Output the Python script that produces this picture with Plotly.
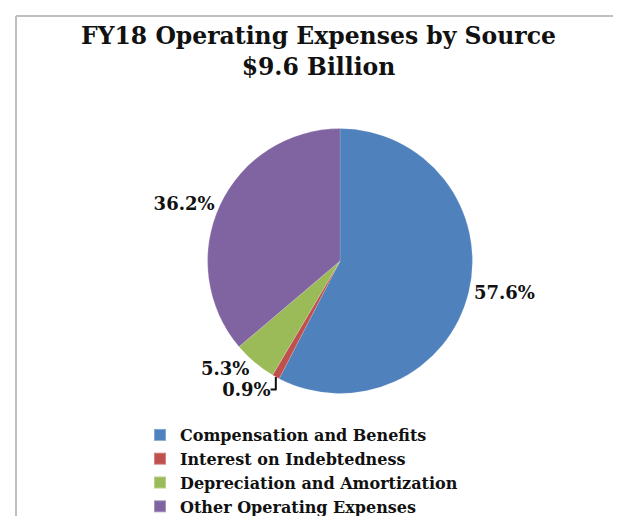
import plotly.graph_objects as go

categories = ["Compensation and Benefits", "Interest on Indebtedness",
              "Depreciation and Amortization", "Other Operating Expenses"]
shares = [57.6, 0.9, 5.3, 36.2]
colors = ["#4F81BD", "#C0504D", "#9BBB59", "#8064A2"]
title_lines = ["FY18 Operating Expenses by Source", "$9.6 Billion"]

W, H = 621, 516
FONT = "DejaVu Serif"

fig = go.Figure(go.Pie(
    labels=["<b>" + c + "</b>" for c in categories],
    values=shares,
    sort=False,
    direction="clockwise",
    rotation=0,
    marker=dict(colors=colors, line=dict(color="rgba(255,255,255,0.3)", width=0.5)),
    texttemplate="<b>%{value:.1f}%</b>",
    textposition="outside",
    textfont=dict(family=FONT, size=18, color="#111111"),
    hoverinfo="label+value",
    domain=dict(x=[(332 - 140) / W, (332 + 140) / W], y=[(H - 390) / H, (H - 122) / H]),
    showlegend=True,
))

fig.update_layout(
    width=W, height=H,
    margin=dict(l=0, r=0, t=0, b=0),
    paper_bgcolor="white",
    plot_bgcolor="white",
    title=dict(
        text="<b>" + title_lines[0] + "<br>" + title_lines[1] + "</b>",
        x=0.5, xanchor="center",
        y=(H - 36) / H, yanchor="top",
        font=dict(family=FONT, size=23.5, color="#111111"),
    ),
    legend=dict(
        x=132 / W, xanchor="left",
        y=(H - 415) / H, yanchor="top",
        orientation="v",
        font=dict(family=FONT, size=16, color="#111111"),
        itemsizing="constant",
        tracegroupgap=0,
        bgcolor="rgba(0,0,0,0)",
    ),
    shapes=[
        dict(type="line", xref="paper", yref="paper",
             x0=8 / W, x1=1, y0=(H - 8) / H, y1=(H - 8) / H,
             line=dict(color="#BFBFBF", width=2)),
        dict(type="line", xref="paper", yref="paper",
             x0=8 / W, x1=8 / W, y0=0, y1=(H - 8) / H,
             line=dict(color="#BFBFBF", width=2)),
    ],
)

fig.write_html("out.html")
